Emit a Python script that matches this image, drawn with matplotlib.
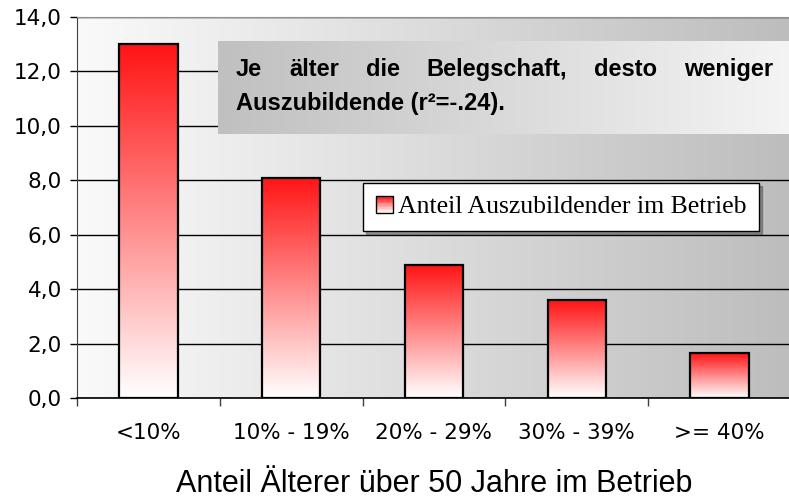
import numpy as np
import matplotlib
matplotlib.use("Agg")
import matplotlib.pyplot as plt
from matplotlib.patches import Rectangle
from matplotlib.legend_handler import HandlerBase
from matplotlib.colors import LinearSegmentedColormap

# Daten
kategorien = ['<10%', '10% - 19%', '20% - 29%', '30% - 39%', '>= 40%']
anteil_azubis = [13.0, 8.1, 4.9, 3.6, 1.65]
y_ticks = [0, 2, 4, 6, 8, 10, 12, 14]
y_labels = ['0,0', '2,0', '4,0', '6,0', '8,0', '10,0', '12,0', '14,0']

plt.rcParams['font.family'] = 'DejaVu Sans'

# Farbverlauf rot -> weiss fuer die Balken
rot_weiss = LinearSegmentedColormap.from_list('rw', ['#ffffff', '#ff1414'])


class GradientHandler(HandlerBase):
    """Legendensymbol mit Farbverlauf"""
    def create_artists(self, legend, orig_handle, xdescent, ydescent,
                       width, height, fontsize, trans):
        n = 12
        teile = []
        for i in range(n):
            r = Rectangle((-xdescent, -ydescent + height * i / n), width, height / n,
                          facecolor=rot_weiss(i / (n - 1)), edgecolor='none',
                          transform=trans)
            teile.append(r)
        rahmen = Rectangle((-xdescent, -ydescent), width, height, facecolor='none',
                           edgecolor='black', lw=1.0, transform=trans)
        teile.append(rahmen)
        return teile


fig = plt.figure(figsize=(7.89, 4.99), dpi=100)
ax = fig.add_axes([77 / 789, 1 - 398 / 499, (791 - 77) / 789, 381 / 499])

x = np.arange(len(kategorien))

# Hintergrund: horizontaler Verlauf hell -> grau
grau = LinearSegmentedColormap.from_list('g', ['#fafafa', '#bdbdbd'])
ax.imshow(np.linspace(0, 1, 256).reshape(1, -1), cmap=grau, aspect='auto',
          extent=(0, 1, 0, 1), transform=ax.transAxes, zorder=0)

# Balken mit Verlauf
balken = ax.bar(x, anteil_azubis, width=0.41, facecolor='none',
                edgecolor='black', linewidth=1.6, zorder=5)
verlauf = np.linspace(0, 1, 256).reshape(-1, 1)
for b in balken:
    x0, w, h = b.get_x(), b.get_width(), b.get_height()
    im = ax.imshow(verlauf, cmap=rot_weiss, aspect='auto', origin='lower',
                   extent=(x0, x0 + w, 0, h), zorder=4)
    im.set_clip_path(b)

ax.set_xlim(-0.5, len(kategorien) - 0.5)
ax.set_ylim(0, 14)

ax.set_yticks(y_ticks)
ax.set_yticklabels(y_labels, fontsize=15.5)
ax.yaxis.grid(True, color='black', linewidth=1.0, zorder=1)
ax.set_axisbelow(True)

ax.set_xticks(x)
ax.set_xticklabels(kategorien, fontsize=15.5)
ax.set_xticks(np.arange(len(kategorien) + 1) - 0.5, minor=True)
ax.tick_params(axis='x', which='major', length=0, pad=18)
ax.tick_params(axis='x', which='minor', length=6, color='#404040', width=1)
ax.tick_params(axis='y', length=5, width=1, pad=6)

ax.spines['left'].set_color('#404040')
ax.spines['top'].set_color('#909090')
ax.spines['right'].set_visible(False)
ax.spines['bottom'].set_color('black')
ax.spines['bottom'].set_linewidth(1.2)

ax.set_xlabel('Anteil Älterer über 50 Jahre im Betrieb', family='Liberation Sans',
              fontsize=22, labelpad=19)

# Textkasten mit Verlauf grau -> weiss
kx0, kx1, ky0, ky1 = 141 / 714, 1.0, 264 / 381, 357 / 381
box_grau = LinearSegmentedColormap.from_list('bg', ['#c0c0c0', '#f4f4f4'])
ax.imshow(np.linspace(0, 1, 256).reshape(1, -1), cmap=box_grau, aspect='auto',
          extent=(kx0, kx1, ky0, ky1), transform=ax.transAxes, zorder=3)

# Zeile 1 im Blocksatz
fig.canvas.draw()
renderer = fig.canvas.get_renderer()
ax_breite = ax.get_window_extent(renderer).width
woerter = ['Je', 'älter', 'die', 'Belegschaft,', 'desto', 'weniger']
links, rechts = 159 / 714, 696 / 714
zeile1_y, zeile2_y = 322 / 381, 288 / 381
texte = [ax.text(0, zeile1_y, w, transform=ax.transAxes, fontsize=17,
                 fontweight='bold', family='Liberation Sans', va='baseline',
                 zorder=6) for w in woerter]
breiten = [t.get_window_extent(renderer).width / ax_breite for t in texte]
luecke = (rechts - links - sum(breiten)) / (len(woerter) - 1)
pos = links
for t, b in zip(texte, breiten):
    t.set_x(pos)
    pos += b + luecke
ax.text(links, zeile2_y, 'Auszubildende (r²=-.24).', transform=ax.transAxes,
        fontsize=17, fontweight='bold', family='Liberation Sans', va='baseline',
        zorder=6)

# Legende
leg = ax.legend([balken], ['Anteil Auszubildender im Betrieb'],
                handler_map={type(balken): GradientHandler()},
                loc='upper left', bbox_to_anchor=(286 / 714, 215 / 381),
                borderaxespad=0, fancybox=False, shadow=True, framealpha=1,
                edgecolor='black', facecolor='white', handlelength=0.65,
                handleheight=0.65, handletextpad=0.2, borderpad=0.5,
                prop={'family': 'Liberation Serif', 'size': 18.5})
leg.get_frame().set_linewidth(1.0)
leg.set_zorder(7)

fig.savefig('out.png', dpi=100)
